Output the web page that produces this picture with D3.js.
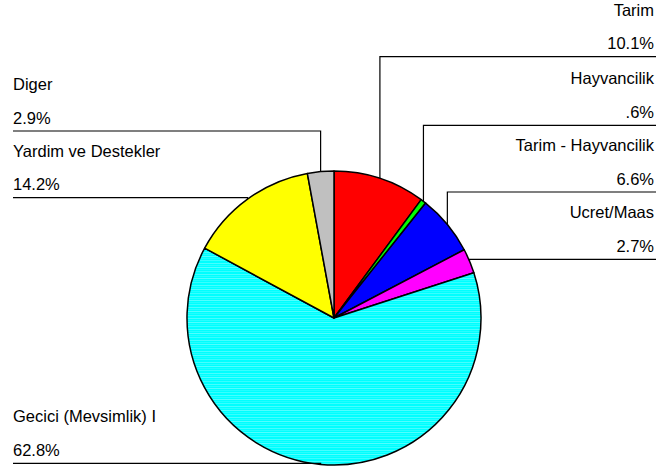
<!DOCTYPE html>
<html>
<head>
<meta charset="utf-8">
<script src="https://cdn.jsdelivr.net/npm/d3@7"></script>
<style>
  html, body { margin: 0; padding: 0; background: #fff; }
  svg { display: block; }
  text { font-family: "Liberation Sans", Arial, sans-serif; font-size: 16.5px; fill: #000; }
</style>
</head>
<body>
<svg id="chart" width="656" height="467"></svg>
<script>
// Income sources, in clockwise order from 12 o'clock
const categories = ["Tarim", "Hayvancilik", "Tarim - Hayvancilik", "Ucret/Maas",
                    "Gecici (Mevsimlik) I", "Yardim ve Destekler", "Diger"];
const values = [10.1, 0.6, 6.6, 2.7, 62.8, 14.2, 2.9];
const valueLabels = ["10.1%", ".6%", "6.6%", "2.7%", "62.8%", "14.2%", "2.9%"];
const colors = ["#ff0000", "#00ff00", "#0000ff", "#ff00ff", "#00ffff", "#ffff00", "#c0c0c0"];

// Label slots: which side each label sits on and the y of its underline
const labelSide = ["right", "right", "right", "right", "left", "left", "left"];
const labelLineY = [56.7, 125.3, 192, 259.3, 463.3, 197.7, 131];

const width = 656, height = 467;
const cx = 334, cy = 318, r = 147;
const leftX = 13, rightX = 654;

const svg = d3.select("#chart");

// Faint light streaks used on the cyan slice
const defs = svg.append("defs");
const pat = defs.append("pattern")
  .attr("id", "streaks").attr("patternUnits", "userSpaceOnUse")
  .attr("width", 656).attr("height", 11);
pat.append("rect").attr("width", 656).attr("height", 11).attr("fill", "#00ffff");
[[0, 1, 0.28], [2, 1, 0.15], [4, 1, 0.32], [6, 1, 0.12], [8, 1, 0.22]].forEach(([y, h, o]) => {
  pat.append("rect").attr("x", 0).attr("y", y).attr("width", 656).attr("height", h)
    .attr("fill", "#ffffff").attr("opacity", o);
});

const pie = d3.pie().sort(null).value(d => d.value).startAngle(0).endAngle(2 * Math.PI);
const rows = categories.map((c, i) => ({
  name: c, value: values[i], label: valueLabels[i], color: colors[i],
  side: labelSide[i], lineY: labelLineY[i]
}));
const arcs = pie(rows);

const arc = d3.arc().innerRadius(0).outerRadius(r);
const edgeArc = d3.arc().innerRadius(r).outerRadius(r);

const g = svg.append("g").attr("transform", `translate(${cx},${cy})`);

// Leader lines: underline from the text edge, then down/up to the slice middle
const lines = svg.append("g");
arcs.forEach(a => {
  const [mx, my] = edgeArc.centroid(a);
  const px = cx + mx, py = cy + my;
  const ex = a.data.side === "right" ? width : leftX;
  lines.append("path")
    .attr("d", d3.line()([[ex, a.data.lineY], [px, a.data.lineY], [px, py]]))
    .attr("fill", "none").attr("stroke", "#000").attr("stroke-width", 1.2);
});

// Slices
g.selectAll("path.slice").data(arcs).join("path")
  .attr("class", "slice")
  .attr("d", arc)
  .attr("fill", (d, i) => i === 4 ? "url(#streaks)" : d.data.color)
  .attr("stroke", "#000")
  .attr("stroke-width", 1.5)
  .attr("stroke-linejoin", "round");

// Labels: name above, percentage below, both sitting over the underline
const labels = svg.append("g");
arcs.forEach(a => {
  const right = a.data.side === "right";
  const x = right ? rightX : leftX;
  const anchor = right ? "end" : "start";
  labels.append("text").attr("x", x).attr("y", a.data.lineY - 41)
    .attr("text-anchor", anchor).text(a.data.name);
  labels.append("text").attr("x", x).attr("y", a.data.lineY - 7.3)
    .attr("text-anchor", anchor).text(a.data.label);
});
</script>
</body>
</html>
